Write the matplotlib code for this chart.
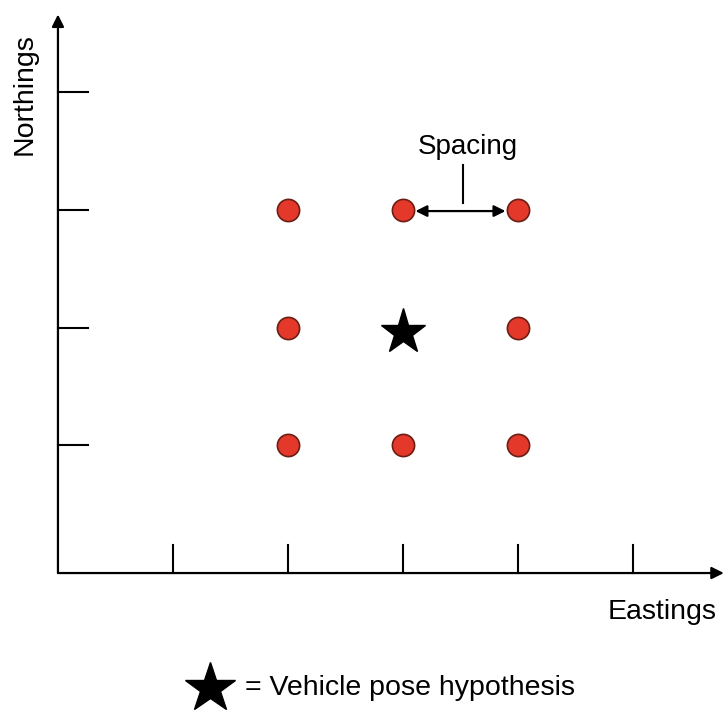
import matplotlib.pyplot as plt

plt.rcParams['font.family'] = ['Liberation Sans', 'DejaVu Sans']

# grid of candidate positions (in grid-spacing units)
cand_x = [2, 3, 4, 2, 4, 2, 3, 4]
cand_y = [3, 3, 3, 2, 2, 1, 1, 1]
pose_x = [3]
pose_y = [1.96]
x_ticks = [1, 2, 3, 4, 5]
y_ticks = [1, 2, 3, 4]

x0 = 0
y0 = -0.085

fig = plt.figure(figsize=(7.26, 7.13), dpi=100)
ax = fig.add_axes([0, 0, 1, 1])
ax.set_xlim(-0.504, 5.809)
ax.set_ylim(-1.274, 4.783)
ax.axis('off')

# axes with arrows
ax.annotate('', xy=(5.79, y0), xytext=(x0, y0),
            arrowprops=dict(arrowstyle='-|>', color='black', lw=1.6,
                            mutation_scale=18, shrinkA=0, shrinkB=0))
ax.annotate('', xy=(x0, 4.66), xytext=(x0, y0),
            arrowprops=dict(arrowstyle='-|>', color='black', lw=1.6,
                            mutation_scale=18, shrinkA=0, shrinkB=0))

# ticks
for t in x_ticks:
    ax.plot([t, t], [y0, 0.153], color='black', lw=1.5)
for t in y_ticks:
    ax.plot([x0, 0.26], [t, t], color='black', lw=1.5)

# candidates and pose
ax.plot(cand_x, cand_y, 'o', ms=16, mfc='#e4392a', mec='#6b1e14', mew=1.2, ls='none')
ax.plot(pose_x, pose_y, '*', ms=34, color='black', ls='none')

# spacing annotation
ax.annotate('', xy=(4, 2.99), xytext=(3, 2.99),
            arrowprops=dict(arrowstyle='<|-|>', color='black', lw=1.6,
                            mutation_scale=17, shrinkA=9, shrinkB=9))
ax.plot([3.52, 3.52], [3.06, 3.38], color='black', lw=1.5)
ax.text(3.565, 3.53, 'Spacing', fontsize=20, ha='center', va='center')

ax.text(5.25, -0.416, 'Eastings', fontsize=20.5, ha='center', va='center')
ax.text(-0.287, 3.98, 'Northings', fontsize=20.5, ha='center', va='center', rotation=90)

# legend
ax.plot([1.32], [-1.062], '*', ms=38, color='black')
ax.text(1.626, -1.062, '= Vehicle pose hypothesis', fontsize=20.5, ha='left', va='center')

fig.savefig('out.png', dpi=100)
